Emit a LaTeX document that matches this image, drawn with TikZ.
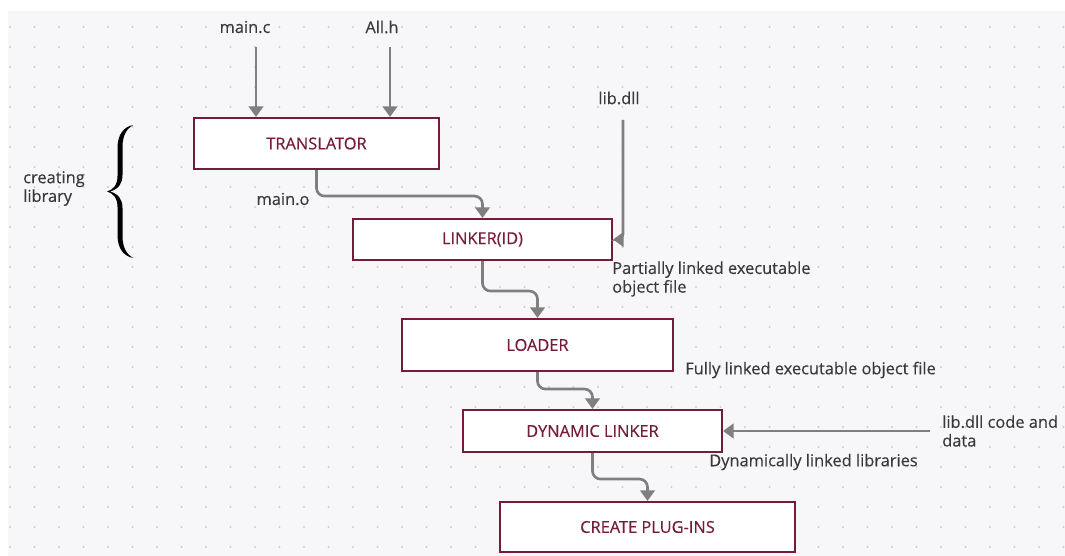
\documentclass[tikz,border=0pt]{standalone}
\usepackage{fontspec}
\setmainfont{Open Sans}[FakeBold=0.35]
\usetikzlibrary{arrows.meta}
\definecolor{boxc}{HTML}{761C3B}
\definecolor{arrc}{HTML}{7F7F7F}
\definecolor{txtc}{HTML}{3A3A3A}
\definecolor{bgc}{HTML}{F7F7F9}
\definecolor{dotc}{HTML}{CDCDD2}
\tikzset{
  procbox/.style={draw=boxc, line width=1.6pt, fill=white, text=boxc,
    font=\fontsize{12.3}{14}\selectfont, inner sep=0pt},
  lbl/.style={text=txtc, font=\fontsize{12.3}{14}\selectfont, inner sep=0pt, align=left},
  arr/.style={draw=arrc, line width=2pt, rounded corners=6pt,
    -{Triangle[width=11pt,length=8pt]}},
}
\begin{document}
\begin{tikzpicture}[x=0.75pt,y=-0.75pt]
\useasboundingbox (0,0) rectangle (1065,556);
\fill[white] (0,0) rectangle (1065,556);
\fill[bgc] (8,11) rectangle (1065,556);
\foreach \i in {0,...,43}{
  \foreach \j in {0,...,26}{
    \fill[dotc] (10+24.5*\i, 27+20*\j) circle[radius=0.8pt];
  }
}
% boxes
\node[procbox, minimum width=183.75pt, minimum height=38.25pt] (tr) at (316.5,143.5) {TRANSLATOR};
\node[procbox, minimum width=194.25pt, minimum height=30.75pt] (lk) at (482.5,239.5) {LINKER(ID)};
\node[procbox, minimum width=203.25pt, minimum height=39pt] (ld) at (537.5,345) {LOADER};
\node[procbox, minimum width=194.25pt, minimum height=31.5pt] (dl) at (592.5,431) {DYNAMIC LINKER};
\node[procbox, minimum width=221.25pt, minimum height=37.5pt] (cp) at (647.5,527) {CREATE PLUG-INS};
% labels
\node[lbl] (mainc) at (245,27) {main.c};
\node[lbl] (allh) at (382,27) {All.h};
\node[lbl] (libdll) at (619,98) {lib.dll};
\node[lbl] (maino) at (283,199) {main.o};
\node[lbl, anchor=west] (partial) at (612,279) {Partially linked executable\\object file};
\node[lbl, anchor=west] (fully) at (685,370) {Fully linked executable object file};
\node[lbl, anchor=west] (libcode) at (942,431) {lib.dll code and\\data};
\node[lbl, anchor=west] (dynlib) at (709,462) {Dynamically linked libraries};
\node[lbl, anchor=west] (creat) at (23,188.5) {creating\\library};
% curly brace
\fill[black] (133,125) .. controls (124,127) and (117.5,134) .. (117.5,148) -- (117.5,176)
  .. controls (117.5,185) and (113,190) .. (107,191.5)
  .. controls (113,193) and (117.5,198) .. (117.5,207) -- (117.5,235)
  .. controls (117.5,249) and (124,256) .. (133,258)
  .. controls (127,254.5) and (122.5,248) .. (122.5,236) -- (122.5,208)
  .. controls (122.5,200) and (119,194) .. (110,191.5)
  .. controls (119,189) and (122.5,183) .. (122.5,175) -- (122.5,147)
  .. controls (122.5,135) and (127,128.5) .. (133,125) -- cycle;
% free ends
\coordinate (mc) at (256,47);
\coordinate (ah) at (390,47);
\coordinate (lb) at (623,120);
\coordinate (lc) at (930,431);
% connectors
\draw[arr] (mc) -- (mc |- tr.north);
\draw[arr] (ah) -- (ah |- tr.north);
\draw[arr] (tr.south) -- ++(0,26) -| (lk.north);
\draw[arr, rounded corners=4pt] (lb) |- (lk.east);
\draw[arr] (lk.south) -- ++(0,30) -| (ld.north);
\draw[arr] (ld.south) -- ++(0,17) -| (dl.north);
\draw[arr] (lc) -- (dl.east);
\draw[arr] (dl.south) -- ++(0,26) -| (cp.north);
\end{tikzpicture}
\end{document}
